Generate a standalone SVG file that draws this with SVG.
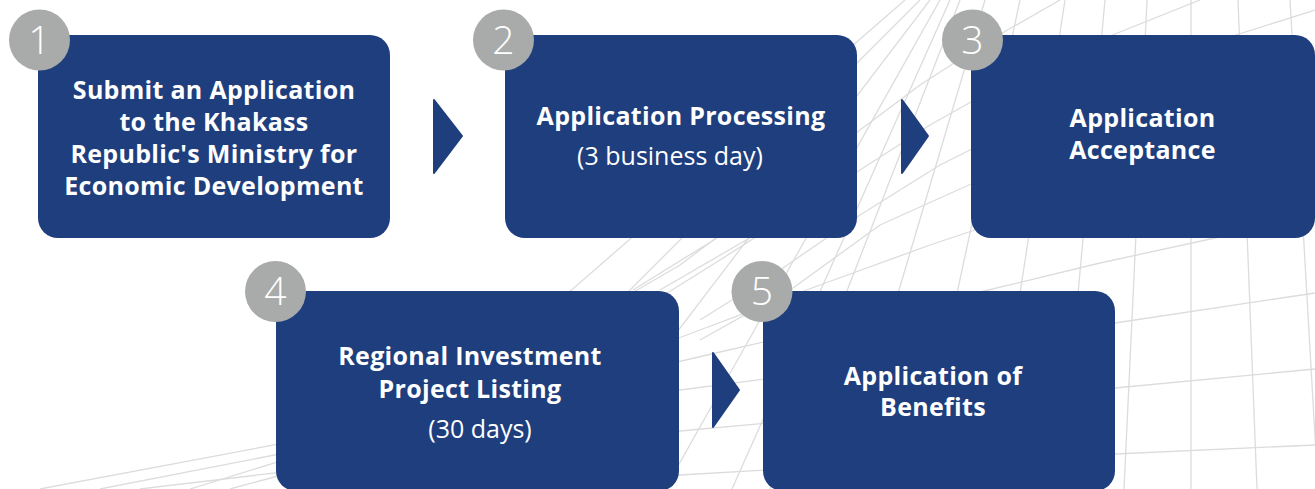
<svg xmlns="http://www.w3.org/2000/svg" width="1315" height="489" viewBox="0 0 1315 489">
<style>
.mesh line,.mesh polyline{stroke:#dcdcdc;stroke-width:1.3;fill:none}
.box{fill:#1e3e7e}
.badge{fill:#a9abaa}
.num{font-family:"Open Sans","Noto Sans",sans-serif;font-weight:300;font-size:39px;fill:#ffffff;text-anchor:middle}
.t{font-family:"Open Sans","Noto Sans",sans-serif;font-weight:700;font-size:25px;letter-spacing:0.3px;fill:#ffffff;text-anchor:middle}
.s{font-family:"Open Sans","Noto Sans",sans-serif;font-weight:400;font-size:25px;fill:#ffffff;text-anchor:middle}
.arrow{fill:#1e3e7e;stroke:#1e3e7e;stroke-width:2;stroke-linejoin:round}
</style>
<rect width="1315" height="489" fill="#ffffff"/>
<g class="mesh" id="background-mesh">
<line x1="1147" y1="0" x2="1124" y2="489"/>
<line x1="1191" y1="0" x2="1191" y2="489"/>
<line x1="1238" y1="0" x2="1257" y2="489"/>
<line x1="1290" y1="0" x2="1318" y2="489"/>
<line x1="1105" y1="0" x2="1060" y2="489"/>
<line x1="1065" y1="0" x2="990" y2="489"/>
<line x1="1020" y1="0" x2="915" y2="489"/>
<line x1="985" y1="0" x2="840" y2="489"/>
<line x1="960" y1="0" x2="770" y2="489"/>
<line x1="950" y1="0" x2="732" y2="489"/>
<line x1="940" y1="0" x2="665" y2="489"/>
<line x1="930" y1="0" x2="610" y2="420"/>
<line x1="920" y1="0" x2="590" y2="330"/>
<line x1="905" y1="0" x2="560" y2="300"/>
<polyline points="1315,212 1215,238 1100,263 980,292 850,322 720,352 600,380"/>
<polyline points="1315,293 1115,323 960,350 820,372 680,390 560,405"/>
<polyline points="1315,369 1115,388 940,408 800,420 680,431 540,445"/>
<polyline points="1315,445 1115,454 950,462 800,468 680,475 560,482"/>
<polyline points="1315,140 1180,170 1050,205 930,245 820,285 700,330 620,360"/>
<polyline points="1315,70 1200,100 1080,140 980,180 880,225 793,288 700,340"/>
<polyline points="1315,10 1220,40 1120,80 1030,120 940,165 860,215 780,270 700,320"/>
<polyline points="1200,0 1100,40 1010,80 930,125 860,170 790,215 720,260 640,310"/>
<polyline points="1060,0 990,40 920,85 860,130 800,175 740,220 680,265 620,300"/>
<line x1="40" y1="489" x2="300" y2="440"/>
<line x1="100" y1="489" x2="300" y2="450"/>
<line x1="140" y1="489" x2="300" y2="470"/>
<line x1="190" y1="489" x2="300" y2="455"/>
<line x1="230" y1="489" x2="300" y2="470"/>
<line x1="660" y1="290" x2="760" y2="232"/>
<line x1="633" y1="290" x2="717" y2="238"/>
</g>
<g id="connectors">
<polygon class="arrow" points="434,100 462,136 434,173"/>
<polygon class="arrow" points="902,100 928,136 902,173"/>
<polygon class="arrow" points="713,353 739,390 713,427"/>
</g>
<g id="node1">
<rect class="box" x="38" y="35" width="352" height="203" rx="20"/>
<circle class="badge" cx="39.5" cy="40" r="30.5"/>
<text class="num" x="39.5" y="54">1</text>
<text class="t" x="214" y="99">Submit an Application</text>
<text class="t" x="214" y="131">to the Khakass</text>
<text class="t" x="214" y="163">Republic's Ministry for</text>
<text class="t" x="214" y="195">Economic Development</text>
</g>
<g id="node2">
<rect class="box" x="505" y="35" width="352" height="203" rx="20"/>
<circle class="badge" cx="503.5" cy="40" r="30.5"/>
<text class="num" x="503.5" y="54">2</text>
<text class="t" x="681" y="125">Application Processing</text>
<text class="s" x="670" y="165">(3 business day)</text>
</g>
<g id="node3">
<rect class="box" x="971" y="35" width="344" height="203" rx="20"/>
<circle class="badge" cx="972.5" cy="40" r="30.5"/>
<text class="num" x="972.5" y="54">3</text>
<text class="t" x="1142.5" y="127">Application</text>
<text class="t" x="1142.5" y="159">Acceptance</text>
</g>
<g id="node4">
<rect class="box" x="276" y="291" width="403" height="200" rx="20"/>
<circle class="badge" cx="275.5" cy="291.5" r="30.5"/>
<text class="num" x="275.5" y="305">4</text>
<text class="t" x="470" y="365">Regional Investment</text>
<text class="t" x="470" y="398">Project Listing</text>
<text class="s" x="480" y="438">(30 days)</text>
</g>
<g id="node5">
<rect class="box" x="763" y="291" width="352" height="200" rx="20"/>
<circle class="badge" cx="762" cy="291.5" r="30.5"/>
<text class="num" x="762" y="305">5</text>
<text class="t" x="933" y="385">Application of</text>
<text class="t" x="933" y="416">Benefits</text>
</g>
</svg>
